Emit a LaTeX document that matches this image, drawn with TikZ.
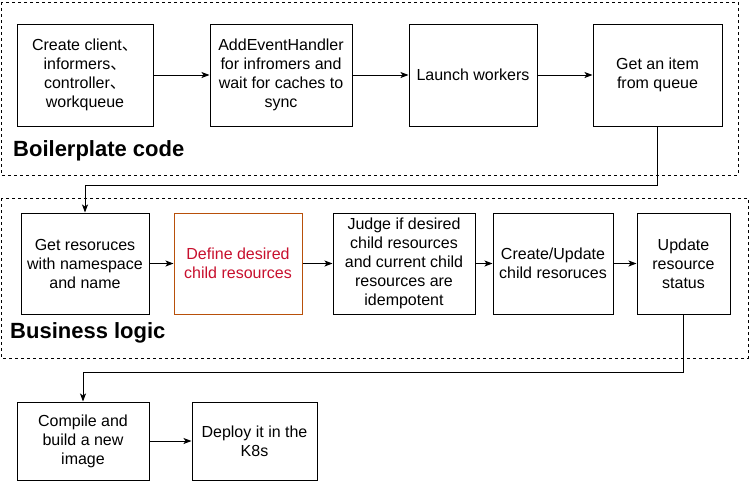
\documentclass[tikz,border=0pt]{standalone}
\usepackage{fontspec}
\setmainfont{Liberation Sans}
\newfontfamily\cjk{Noto Sans CJK SC}
\usetikzlibrary{arrows.meta}
\definecolor{orangeborder}{HTML}{B8500A}
\definecolor{redtext}{HTML}{C8102E}
\newcommand{\dun}{{\cjk 、}}
\begin{document}
\begin{tikzpicture}[x=1pt,y=-1pt,
  every node/.style={font=\fontsize{16}{19}\selectfont},
  stepbox/.style={draw=black,line width=1pt,rectangle,align=center,inner sep=0pt},
  groupbox/.style={draw=black,line width=1pt,dash pattern=on 3pt off 3pt},
  grouplabel/.style={anchor=west,font=\fontsize{22}{26}\selectfont\bfseries,inner sep=0pt},
  flow/.style={draw=black,line width=1pt,-{Stealth[length=8pt,width=6pt,inset=2pt]}}]
\useasboundingbox (0,0) rectangle (749,482);
\path[fill=white] (0,0) rectangle (749,482);
% group frames
\draw[groupbox] (1,2) rectangle (738,175);
\draw[groupbox] (1,198) rectangle (748,358);
\node[grouplabel] (lab1) at (13,151) {Boilerplate code};
\node[grouplabel] (lab2) at (10,333) {Business logic};
% row 1
\node[stepbox,minimum width=136pt,minimum height=102pt] (a1) at (85,75) {Create client\dun\\informers\dun\\controller\dun\\workqueue};
\node[stepbox,minimum width=142pt,minimum height=102pt] (a2) at (281,75) {AddEventHandler\\for infromers and\\wait for caches to\\sync};
\node[stepbox,minimum width=128pt,minimum height=102pt] (a3) at (473,75) {Launch workers};
\node[stepbox,minimum width=129pt,minimum height=102pt] (a4) at (657.5,75) {Get an item\\from queue};
% row 2
\node[stepbox,minimum width=128pt,minimum height=101pt] (b1) at (85,263.5) {Get resoruces\\with namespace\\and name};
\node[stepbox,draw=orangeborder,text=redtext,minimum width=128pt,minimum height=101pt] (b2) at (238,263.5) {Define desired\\child resources};
\node[stepbox,minimum width=142pt,minimum height=101pt] (b3) at (404,263.5) {Judge if desired\\child resources\\and current child\\resources are\\idempotent};
\node[stepbox,minimum width=120pt,minimum height=101pt] (b4) at (553,263.5) {Create/Update\\child resoruces};
\node[stepbox,minimum width=93pt,minimum height=101pt] (b5) at (683.5,263.5) {Update\\resource\\status};
% row 3
\node[stepbox,minimum width=132pt,minimum height=78pt] (c1) at (83,441) {Compile and\\build a new\\image};
\node[stepbox,minimum width=125pt,minimum height=78pt] (c2) at (254.5,441) {Deploy it in the\\K8s};
% connectors
\draw[flow] (a1) -- (a2);
\draw[flow] (a2) -- (a3);
\draw[flow] (a3) -- (a4);
\coordinate (t1) at (657.5,185);
\draw[flow] (a4.south) -- (t1) -| (b1.north);
\draw[flow] (b1) -- (b2);
\draw[flow] (b2) -- (b3);
\draw[flow] (b3) -- (b4);
\draw[flow] (b4) -- (b5);
\coordinate (t2) at (683.5,372);
\draw[flow] (b5.south) -- (t2) -| (c1.north);
\draw[flow] (c1) -- (c2);
\end{tikzpicture}
\end{document}
